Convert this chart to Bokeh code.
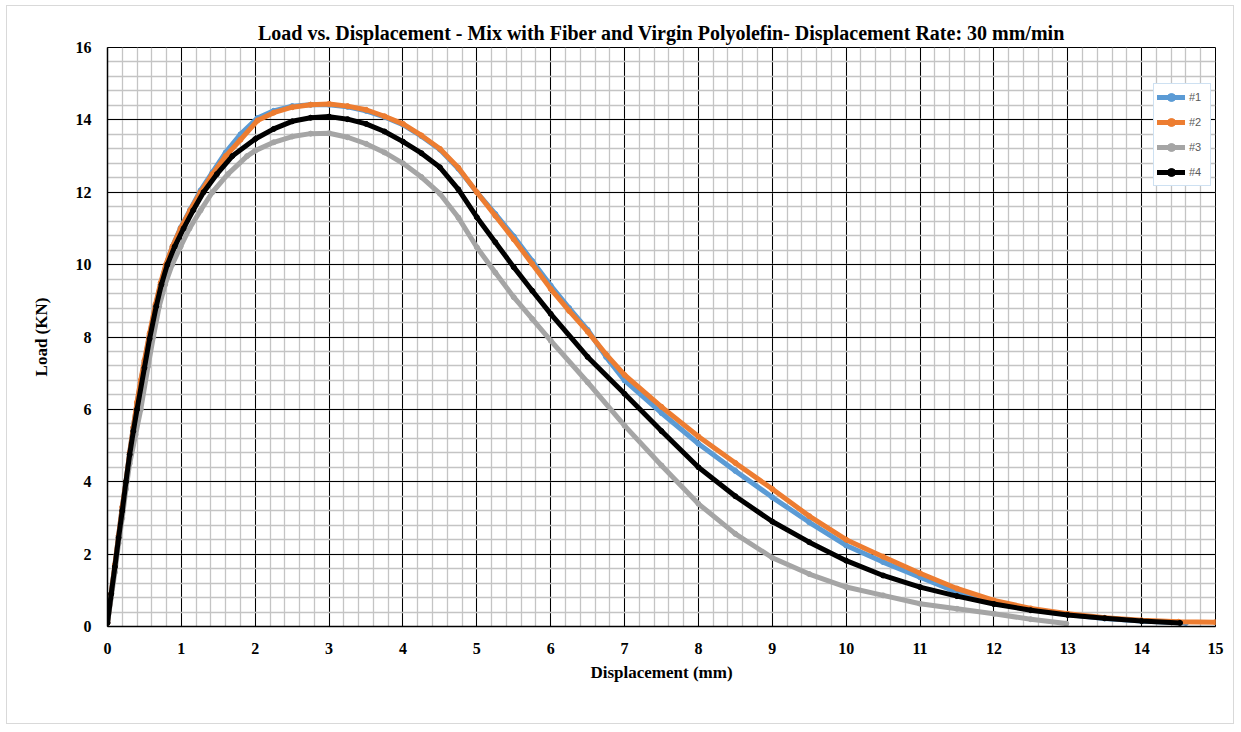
from bokeh.plotting import figure
from bokeh.models import SingleIntervalTicker, Range1d, Legend, LegendItem
from bokeh.embed import file_html
from bokeh.resources import INLINE

# ---------------- data ----------------
x1 = [0, 0.05, 0.1, 0.15, 0.2, 0.25, 0.3, 0.35, 0.4, 0.45, 0.5, 0.57, 0.65, 0.72, 0.79, 0.88, 0.99, 1.12,
      1.26, 1.42, 1.6, 1.8, 2.03, 2.25, 2.5, 2.75, 3.0, 3.25, 3.5, 3.75, 4.0, 4.25, 4.5, 4.75, 5.0, 5.25,
      5.5, 5.75, 6.0, 6.25, 6.5, 6.75, 7.0, 7.5, 8.0, 8.5, 9.0, 9.5, 10.0, 10.5, 11.0, 11.5, 12.0, 12.5,
      13.0, 13.5, 14.0, 14.6]
y1 = [0.1, 0.9, 1.7, 2.5, 3.3, 4.0, 4.8, 5.5, 6.15, 6.75, 7.3, 8.05, 8.85, 9.45, 9.98, 10.5, 11.02, 11.52,
      12.05, 12.55, 13.1, 13.6, 14.05, 14.25, 14.38, 14.42, 14.42, 14.36, 14.25, 14.08, 13.87, 13.55, 13.18, 12.65, 12.0, 11.4,
      10.78, 10.1, 9.42, 8.8, 8.2, 7.45, 6.8, 5.9, 5.05, 4.3, 3.57, 2.88, 2.24, 1.78, 1.36, 0.95, 0.65, 0.47,
      0.33, 0.22, 0.15, 0.1]

x2 = [0, 0.05, 0.1, 0.15, 0.2, 0.25, 0.3, 0.35, 0.4, 0.45, 0.5, 0.57, 0.65, 0.72, 0.79, 0.88, 0.99, 1.12,
      1.26, 1.42, 1.6, 1.8, 2.03, 2.25, 2.5, 2.75, 3.0, 3.25, 3.5, 3.75, 4.0, 4.25, 4.5, 4.75, 5.0, 5.25,
      5.5, 5.75, 6.0, 6.25, 6.5, 6.75, 7.0, 7.5, 8.0, 8.5, 9.0, 9.5, 10.0, 10.5, 11.0, 11.5, 12.0, 12.5,
      13.0, 13.5, 14.0, 14.5, 15.0]
y2 = [0.1, 0.9, 1.7, 2.5, 3.3, 4.0, 4.8, 5.5, 6.2, 6.8, 7.35, 8.1, 8.9, 9.5, 10.0, 10.5, 11.0, 11.5,
      12.0, 12.5, 13.0, 13.45, 13.98, 14.2, 14.35, 14.42, 14.44, 14.38, 14.28, 14.1, 13.89, 13.57, 13.2, 12.68, 12.0, 11.35,
      10.7, 10.02, 9.33, 8.72, 8.15, 7.52, 6.95, 6.07, 5.25, 4.52, 3.8, 3.05, 2.4, 1.93, 1.47, 1.05, 0.72, 0.5,
      0.35, 0.24, 0.17, 0.13, 0.12]

x3 = [0, 0.05, 0.1, 0.15, 0.2, 0.25, 0.3, 0.38, 0.45, 0.55, 0.62, 0.7, 0.78, 0.875, 0.99, 1.11, 1.26, 1.42,
      1.63, 1.89, 2.0, 2.25, 2.5, 2.75, 3.0, 3.25, 3.5, 3.75, 4.0, 4.25, 4.5, 4.75, 5.0, 5.25, 5.5, 5.75,
      6.0, 6.5, 7.0, 7.5, 8.0, 8.5, 9.0, 9.5, 10.0, 10.5, 11.0, 11.5, 12.0, 12.5, 12.98]
y3 = [0.1, 0.8, 1.5, 2.3, 3.0, 3.8, 4.5, 5.3, 6.0, 7.2, 8.0, 8.85, 9.45, 10.0, 10.5, 11.0, 11.5, 12.0,
      12.5, 13.0, 13.15, 13.38, 13.54, 13.62, 13.63, 13.52, 13.34, 13.1, 12.8, 12.42, 11.96, 11.3, 10.48, 9.78, 9.1, 8.5,
      7.9, 6.75, 5.55, 4.45, 3.39, 2.56, 1.9, 1.45, 1.09, 0.86, 0.63, 0.49, 0.35, 0.2, 0.08]

x4 = [0, 0.05, 0.1, 0.15, 0.2, 0.25, 0.3, 0.35, 0.4, 0.5, 0.57, 0.66, 0.73, 0.81, 0.91, 1.03, 1.16, 1.3,
      1.48, 1.69, 2.0, 2.25, 2.5, 2.75, 3.0, 3.25, 3.5, 3.75, 4.0, 4.25, 4.5, 4.75, 5.0, 5.25, 5.5, 5.75,
      6.0, 6.5, 7.0, 7.5, 8.0, 8.5, 9.0, 9.5, 10.0, 10.5, 11.0, 11.5, 12.0, 12.5, 13.0, 13.5, 14.0, 14.52]
y4 = [0.1, 0.9, 1.65, 2.45, 3.2, 4.0, 4.75, 5.4, 6.0, 7.15, 7.95, 8.85, 9.45, 10.0, 10.5, 11.0, 11.5, 12.0,
      12.5, 13.0, 13.47, 13.75, 13.96, 14.06, 14.09, 14.02, 13.89, 13.68, 13.4, 13.08, 12.69, 12.08, 11.31, 10.62, 9.93, 9.28,
      8.64, 7.45, 6.43, 5.4, 4.4, 3.6, 2.9, 2.33, 1.82, 1.41, 1.09, 0.84, 0.62, 0.45, 0.32, 0.23, 0.15, 0.1]

series_names = ["#1", "#2", "#3", "#4"]
series_colors = ["#5B9BD5", "#ED7D31", "#A5A5A5", "#000000"]

TITLE = "Load vs. Displacement - Mix with Fiber and Virgin Polyolefin- Displacement Rate: 30 mm/min"
X_LABEL = "Displacement (mm)"
Y_LABEL = "Load (KN)"

# ---------------- figure ----------------
FONT = "Liberation Serif"
p = figure(width=1228, height=719, x_range=Range1d(0, 15), y_range=Range1d(0, 16),
           output_backend="svg", toolbar_location=None, title=TITLE,
           min_border_left=100, min_border_right=20, min_border_top=41, min_border_bottom=99)
p.margin = (5, 0, 0, 6)
p.styles = {"border": "1px solid #d9d9d9"}

p.title.align = "center"
p.title.text_font = FONT
p.title.text_font_size = "20px"
p.title.text_font_style = "bold"
p.title.text_color = "#000000"
p.title.standoff = 7

p.outline_line_color = "#000000"
p.background_fill_color = "white"
p.border_fill_color = "white"

xt = SingleIntervalTicker(interval=1, num_minor_ticks=5)
yt = SingleIntervalTicker(interval=2, num_minor_ticks=5)
p.xaxis.ticker = xt
p.yaxis.ticker = yt
p.xgrid.ticker = xt
p.ygrid.ticker = yt
for g in (p.xgrid, p.ygrid):
    g.grid_line_color = "#000000"
    g.grid_line_width = 1
    g.minor_grid_line_color = "#c4c4c4"
    g.minor_grid_line_width = 1.3

for ax in (p.xaxis, p.yaxis):
    ax.axis_line_color = "#000000"
    ax.axis_line_width = 1.5
    ax.major_tick_line_color = None
    ax.minor_tick_line_color = None
    ax.major_label_text_font = FONT
    ax.major_label_text_font_style = "bold"
    ax.major_label_text_font_size = "16px"
    ax.major_label_text_color = "#000000"
    ax.axis_label_text_font = FONT
    ax.axis_label_text_font_style = "bold"
    ax.axis_label_text_font_size = "17px"
    ax.axis_label_text_color = "#000000"
p.xaxis.axis_label = X_LABEL
p.yaxis.axis_label = Y_LABEL
p.xaxis.major_label_standoff = 10
p.yaxis.major_label_standoff = 10
p.xaxis.axis_label_standoff = 6
p.yaxis.axis_label_standoff = 22

items = []
for xs, ys, name, col in zip([x1, x2, x3, x4], [y1, y2, y3, y4], series_names, series_colors):
    lr = p.line(xs, ys, line_color=col, line_width=5, line_join="round", line_cap="round")
    sr = p.scatter(xs, ys, marker="circle", size=5, fill_color=col, line_color=col)
    items.append(LegendItem(label=name, renderers=[lr, sr]))

legend = Legend(items=items, location=(1046, 440), orientation="vertical",
                border_line_color="#9DC3E6", border_line_width=1.5,
                background_fill_color="white", background_fill_alpha=1,
                label_text_font="Liberation Sans", label_text_font_size="11px",
                label_text_color="#595959", glyph_width=28, glyph_height=20,
                label_height=20, label_width=18, spacing=5, padding=3, margin=0,
                label_standoff=4)
p.add_layout(legend)

open("out.html", "w").write(file_html(p, INLINE))
